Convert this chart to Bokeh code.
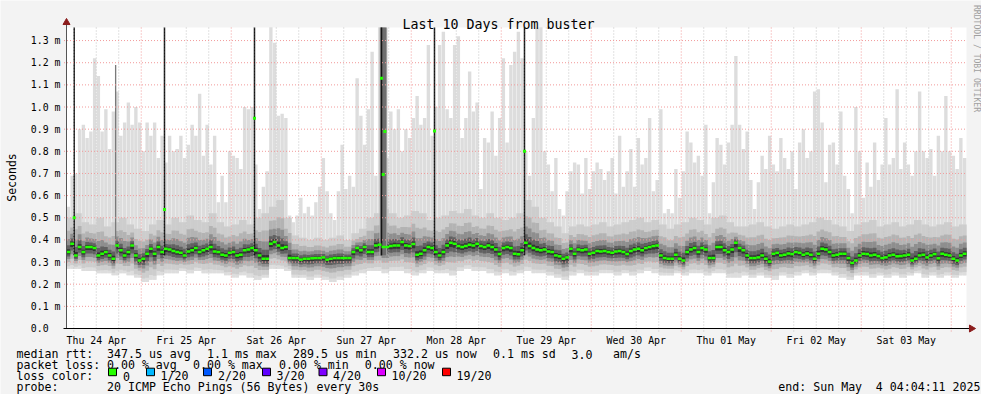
import numpy as np
from bokeh.plotting import figure
from bokeh.models import Range1d, ColumnDataSource
from bokeh.core.properties import value
from bokeh.embed import file_html
from bokeh.resources import INLINE

# ---------------- data ----------------
# time axis: hours since graph start (Thu 24 Apr 2025 04:04:11), 10 days
start_hour_of_day = 4 + 4 / 60 + 11 / 3600
span_hours = 240

day_labels = ["Thu 24 Apr", "Fri 25 Apr", "Sat 26 Apr", "Sun 27 Apr", "Mon 28 Apr",
              "Tue 29 Apr", "Wed 30 Apr", "Thu 01 May", "Fri 02 May", "Sat 03 May"]

y_ticks = [0.0, 0.1, 0.2, 0.3, 0.4, 0.5, 0.6, 0.7, 0.8, 0.9, 1.0, 1.1, 1.2, 1.3]
y_tick_labels = ["0.0\u00a0\u00a0", "0.1 m", "0.2 m", "0.3 m", "0.4 m", "0.5 m", "0.6 m",
                 "0.7 m", "0.8 m", "0.9 m", "1.0 m", "1.1 m", "1.2 m", "1.3 m"]

# median rtt per hour (ms)
median_ms = [
    0.345, 0.383, 0.330, 0.368, 0.345, 0.368, 0.368, 0.363, 0.330, 0.338,
    0.345, 0.330, 0.315, 0.375, 0.353, 0.330, 0.345, 0.375, 0.330, 0.307,
    0.315, 0.338, 0.360, 0.338, 0.368, 0.345, 0.360, 0.357, 0.350, 0.345,
    0.342, 0.330, 0.348, 0.353, 0.363, 0.345, 0.353, 0.360, 0.368, 0.348,
    0.345, 0.333, 0.330, 0.342, 0.345, 0.330, 0.333, 0.353, 0.357, 0.363,
    0.353, 0.330, 0.315, 0.315, 0.383, 0.390, 0.375, 0.363, 0.368, 0.318,
    0.318, 0.318, 0.311, 0.315, 0.315, 0.317, 0.318, 0.318, 0.321, 0.311,
    0.315, 0.318, 0.318, 0.318, 0.318, 0.318, 0.345, 0.363, 0.353, 0.368,
    0.345, 0.345, 0.375, 0.378, 0.368, 0.368, 0.372, 0.375, 0.375, 0.390,
    0.375, 0.372, 0.381, 0.333, 0.338, 0.353, 0.368, 0.363, 0.345, 0.330,
    0.345, 0.375, 0.387, 0.383, 0.372, 0.368, 0.372, 0.378, 0.375, 0.383,
    0.372, 0.368, 0.375, 0.368, 0.357, 0.336, 0.363, 0.368, 0.363, 0.338,
    0.335, 0.353, 0.387, 0.372, 0.363, 0.357, 0.353, 0.357, 0.348, 0.345,
    0.330, 0.326, 0.315, 0.321, 0.360, 0.338, 0.357, 0.353, 0.357, 0.338,
    0.342, 0.350, 0.348, 0.350, 0.345, 0.342, 0.348, 0.350, 0.345, 0.336,
    0.350, 0.357, 0.360, 0.353, 0.363, 0.368, 0.372, 0.375, 0.330, 0.318,
    0.315, 0.315, 0.333, 0.315, 0.307, 0.345, 0.357, 0.363, 0.345, 0.363,
    0.357, 0.318, 0.318, 0.368, 0.368, 0.353, 0.345, 0.357, 0.387, 0.363,
    0.353, 0.330, 0.318, 0.318, 0.321, 0.330, 0.315, 0.302, 0.338, 0.342,
    0.330, 0.333, 0.339, 0.336, 0.345, 0.342, 0.333, 0.339, 0.333, 0.315,
    0.338, 0.360, 0.357, 0.345, 0.330, 0.333, 0.338, 0.338, 0.318, 0.296,
    0.307, 0.330, 0.338, 0.336, 0.330, 0.333, 0.327, 0.318, 0.321, 0.330,
    0.333, 0.326, 0.327, 0.330, 0.333, 0.307, 0.315, 0.330, 0.333, 0.321,
    0.330, 0.336, 0.317, 0.338, 0.333, 0.330, 0.315, 0.307, 0.330, 0.338,
]

# max ping per hour (ms)
max_ms = [
    0.55, 0.69, 0.70, 0.90, 0.92, 0.86, 0.89, 1.22, 1.14, 0.89,
    0.99, 0.81, 0.98, 1.07, 0.87, 0.93, 1.02, 0.92, 1.00, 0.93,
    0.80, 0.93, 0.87, 0.93, 0.77, 0.87, 0.75, 0.87, 0.80, 0.81,
    0.87, 0.77, 0.83, 0.92, 0.87, 1.06, 0.78, 0.92, 0.74, 0.87,
    0.57, 0.69, 0.57, 0.80, 0.78, 0.77, 0.72, 1.00, 0.99, 1.00,
    0.74, 0.54, 0.64, 0.71, 1.36, 1.29, 0.96, 0.97, 0.95, 0.51,
    0.48, 0.51, 0.59, 0.52, 0.55, 0.51, 0.57, 0.64, 0.77, 0.62,
    0.52, 0.49, 0.62, 0.83, 0.63, 0.69, 0.64, 1.13, 0.96, 0.83,
    0.99, 1.25, 0.69, 1.36, 1.36, 0.77, 0.98, 0.90, 0.99, 0.80,
    0.90, 0.86, 0.95, 1.05, 0.92, 0.95, 1.28, 0.87, 1.00, 1.28,
    1.34, 0.99, 0.95, 1.28, 1.32, 0.86, 0.95, 1.16, 0.98, 1.02,
    0.63, 0.86, 0.84, 0.98, 0.78, 0.95, 1.22, 0.84, 1.19, 1.25,
    1.34, 1.22, 0.80, 0.69, 0.95, 1.36, 1.36, 0.80, 0.74, 0.62,
    0.77, 0.54, 0.51, 0.62, 0.71, 0.75, 0.74, 0.61, 0.77, 0.63,
    0.71, 0.75, 0.72, 0.67, 0.71, 0.77, 0.61, 0.87, 0.64, 0.71,
    0.81, 0.64, 0.86, 0.74, 0.77, 0.95, 0.62, 0.67, 0.99, 0.52,
    0.54, 0.52, 0.72, 0.59, 0.71, 0.89, 0.84, 0.75, 0.78, 0.69,
    0.92, 0.52, 0.66, 0.86, 0.83, 0.74, 0.84, 0.92, 1.23, 0.92,
    0.81, 0.89, 0.67, 0.54, 0.66, 0.78, 0.72, 0.87, 0.74, 0.71,
    0.86, 0.77, 0.72, 0.80, 0.63, 0.84, 0.90, 0.77, 0.80, 1.07,
    1.08, 0.93, 0.66, 0.83, 0.84, 0.74, 0.98, 0.69, 0.63, 0.52,
    1.00, 0.80, 0.59, 0.75, 0.64, 0.84, 0.67, 0.74, 0.95, 0.74,
    0.77, 1.08, 0.72, 0.84, 0.74, 0.69, 0.80, 1.07, 0.80, 0.77,
    0.81, 0.69, 0.87, 0.80, 1.05, 0.80, 0.78, 0.72, 0.86, 0.77,
]

# upper edge of the denser smoke, per 2 hours (ms)
upper_ms = [
    0.50, 0.52, 0.48, 0.47, 0.50, 0.46, 0.48, 0.50, 0.47, 0.45,
    0.44, 0.47, 0.49, 0.47, 0.50, 0.48, 0.51, 0.49, 0.48, 0.52,
    0.48, 0.46, 0.47, 0.49, 0.47, 0.50, 0.52, 0.55, 0.58, 0.50,
    0.42, 0.41, 0.40, 0.41, 0.40, 0.41, 0.42, 0.40, 0.43, 0.45,
    0.50, 0.52, 0.54, 0.52, 0.50, 0.51, 0.53, 0.52, 0.49, 0.50,
    0.51, 0.53, 0.52, 0.54, 0.51, 0.50, 0.52, 0.50, 0.49, 0.50,
    0.52, 0.58, 0.55, 0.50, 0.48, 0.46, 0.43, 0.46, 0.47, 0.46,
    0.47, 0.48, 0.46, 0.47, 0.48, 0.49, 0.50, 0.48, 0.49, 0.47,
    0.45, 0.47, 0.48, 0.50, 0.49, 0.47, 0.50, 0.51, 0.48, 0.46,
    0.46, 0.47, 0.48, 0.46, 0.45, 0.46, 0.47, 0.46, 0.47, 0.48,
    0.50, 0.49, 0.47, 0.46, 0.44, 0.47, 0.48, 0.49, 0.46, 0.47,
    0.48, 0.46, 0.47, 0.49, 0.47, 0.46, 0.47, 0.48, 0.46, 0.47,
]

# min ping per 2 hours (ms)
min_ms = [
    0.27, 0.27, 0.26, 0.26, 0.25, 0.25, 0.24, 0.25, 0.24, 0.23,
    0.21, 0.22, 0.24, 0.25, 0.25, 0.26, 0.25, 0.26, 0.25, 0.25,
    0.25, 0.24, 0.23, 0.24, 0.23, 0.22, 0.23, 0.27, 0.27, 0.26,
    0.23, 0.23, 0.22, 0.23, 0.22, 0.21, 0.22, 0.23, 0.24, 0.25,
    0.26, 0.26, 0.25, 0.26, 0.26, 0.25, 0.24, 0.25, 0.26, 0.25,
    0.25, 0.24, 0.26, 0.27, 0.26, 0.26, 0.25, 0.24, 0.25, 0.24,
    0.25, 0.26, 0.25, 0.25, 0.24, 0.23, 0.22, 0.24, 0.25, 0.24,
    0.24, 0.25, 0.25, 0.24, 0.25, 0.24, 0.25, 0.26, 0.25, 0.24,
    0.24, 0.25, 0.24, 0.25, 0.25, 0.24, 0.25, 0.25, 0.23, 0.23,
    0.24, 0.23, 0.24, 0.23, 0.22, 0.24, 0.23, 0.24, 0.25, 0.24,
    0.25, 0.25, 0.24, 0.23, 0.22, 0.24, 0.24, 0.23, 0.24, 0.23,
    0.24, 0.23, 0.24, 0.25, 0.23, 0.24, 0.23, 0.24, 0.23, 0.24,
]

# samples whose whole smoke reaches the top (hours since start)
black_spike_hour = [2.05, 26.13, 50.13, 84.0, 98.13, 122.13]
# high median samples (hours since start, median ms)
spike_hour = [2.05, 26.13, 50.13, 84.0, 84.45, 84.9, 98.13, 122.13]
spike_median_ms = [0.50, 0.537, 0.949, 1.13, 0.695, 0.889, 0.892, 0.80]
gray_spike_hour = [13.1]
gray_spike_top_ms = [1.19]
burst_hours = [83.7, 85.3]

loss_labels = ["0", "1/20", "2/20", "3/20", "4/20", "10/20", "19/20"]
loss_colors = ["#26ff00", "#00b8ff", "#0059ff", "#5e00ff", "#7e00ff", "#dd00ff", "#ff0000"]

legend_rows = [
    [("median rtt:", 16), ("347.5 us avg", 106.5), ("1.1 ms max", 206.5),
     ("289.5 us min", 292.5), ("332.2 us now", 392.5), ("0.1 ms sd", 492.5),
     ("3.0", 571), ("am/s", 612.5)],
    [("packet loss:", 16), ("0.00 % avg", 106.5), ("0.00 % max", 192.5),
     ("0.00 % min", 278.5), ("0.00 % now", 364.3)],
    [("loss color:", 16)],
    [("probe:", 16), ("20 ICMP Echo Pings (56 Bytes) every 30s", 106.5)],
]
end_texts = ["end: Sun May", "4 04:04:11 2025"]

# ---------------- layout constants (pixels) ----------------
W, H = 981, 394
PX_L, PX_R, PX_T, PX_B = 66, 966, 27, 328
Y_TOP = 1.359
PPH = (PX_R - PX_L) / span_hours          # pixels per hour
PPM = (PX_B - PX_T) / Y_TOP               # pixels per ms
FONT = "DejaVu Sans Mono"

p = figure(width=W, height=H, x_range=Range1d(0, W), y_range=Range1d(H, 0),
           output_backend="svg", toolbar_location=None, min_border=0,
           x_axis_type=None, y_axis_type=None,
           background_fill_color="#f3f3f3", border_fill_color="#f3f3f3",
           outline_line_color=None)
p.extra_x_ranges = {"h": Range1d(-PX_L / PPH, (W - PX_L) / PPH)}
p.extra_y_ranges = {"ms": Range1d(-(H - PX_B) / PPM, Y_TOP + PX_T / PPM)}
D = dict(x_range_name="h", y_range_name="ms")

# canvas
p.quad(left=[0], right=[span_hours], bottom=[0], top=[Y_TOP], fill_color="white",
       line_color=None, **D)

# ---------------- smoke ----------------
hrs = np.arange(span_hours) + 0.5
med = np.array(median_ms)
lo = np.repeat(np.array(min_ms), 2)
up = np.maximum(np.repeat(np.array(upper_ms), 2), med + 0.04)
hi = np.maximum(np.array(max_ms), up)

p.vbar(x=hrs, width=0.9, bottom=lo, top=hi, fill_color="#dddddd", line_color=None, **D)
p.vbar(x=hrs, width=1.02, bottom=lo, top=up, fill_color="#dddddd", line_color=None, **D)
layers = [(0.85, 1.0, "#cdcdcd"), (0.6, 0.62, "#b3b3b3"), (0.42, 0.38, "#8e8e8e"),
          (0.27, 0.2, "#616161"), (0.13, 0.08, "#333333")]
for fl, fu, c in layers:
    p.vbar(x=hrs, width=1.02, bottom=med - fl * (med - lo), top=med + fu * (up - med),
           fill_color=c, line_color=None, **D)

bmid = (burst_hours[0] + burst_hours[1]) / 2
bw = burst_hours[1] - burst_hours[0]
p.vbar(x=[bmid], width=bw + 0.5, bottom=0.33, top=Y_TOP, fill_color="#b4b4b4",
       line_color=None, **D)
p.vbar(x=[bmid], width=bw, bottom=0.33, top=Y_TOP, fill_color="#6e6e6e", line_color=None, **D)
p.vbar(x=gray_spike_hour, width=0.35, bottom=0.33, top=gray_spike_top_ms,
       fill_color="#7a7a7a", line_color=None, **D)
p.vbar(x=black_spike_hour, width=0.4, bottom=0.33, top=Y_TOP, fill_color="#151515",
       line_color=None, **D)

# ---------------- grid ----------------
minor6 = [6 * m - start_hour_of_day for m in range(1, 41) if m % 4 != 0]
midnights = [24 * d - start_hour_of_day for d in range(1, 11)]
noons = [24 * d + 12 - start_hour_of_day for d in range(10)]
ext_y = 3 / PPM
ext_x = 2.5 / PPH
p.segment(x0=minor6, x1=minor6, y0=[-ext_y] * len(minor6), y1=[Y_TOP] * len(minor6),
          line_color="#c4c4c4", line_dash="1 2", line_width=1, **D)
p.segment(x0=midnights, x1=midnights, y0=[-ext_y] * len(midnights),
          y1=[Y_TOP] * len(midnights), line_color="#f29a9a", line_dash="1 2", line_width=1, **D)
hy = y_ticks[1:]
p.segment(x0=[-ext_x] * len(hy), x1=[span_hours] * len(hy), y0=hy, y1=hy,
          line_color="#f29a9a", line_dash="1 2", line_width=1, **D)

# ---------------- median ----------------
p.segment(x0=hrs - 0.5, x1=hrs + 0.5, y0=med, y1=med, line_color="#22ff00", line_width=2.5, **D)
p.scatter(x=spike_hour, y=spike_median_ms, marker="square", size=3, fill_color="#22ff00",
          line_color=None, **D)

# ---------------- axes ----------------
head_c = "#8b1c1c"
p.segment(x0=[0], x1=[0], y0=[0], y1=[Y_TOP + 4 / PPM], line_color="#555555", line_width=1, **D)
p.segment(x0=[-3 / PPH], x1=[span_hours + 4 / PPH], y0=[0], y1=[0], line_color="#000000",
          line_width=1, **D)
p.scatter(x=[0], y=[Y_TOP + 5 / PPM], marker="triangle", size=7, fill_color=head_c,
          line_color=head_c, **D)
p.scatter(x=[span_hours + 5 / PPH], y=[0], marker="triangle", size=7, angle=-np.pi / 2,
          fill_color=head_c, line_color=head_c, **D)

# y tick labels (x in pixels, y in ms)
p.text(x=[PX_L - 6] * len(y_ticks), y=y_ticks, text=y_tick_labels, y_range_name="ms",
       text_font=value(FONT), text_font_size=value("9.9px"), text_align="right",
       text_baseline="middle", text_color="#000000")
# x tick labels (x in hours, y in pixels)
p.text(x=noons, y=[340.0] * len(noons), text=day_labels, x_range_name="h",
       text_font=value(FONT), text_font_size=value("9.9px"), text_align="center",
       text_baseline="alphabetic", text_color="#000000")

# ---------------- titles ----------------
p.text(x=[498], y=[23.5], text=["Last 10 Days from buster"], text_font=value(FONT),
       text_font_size=value("13.3px"), text_align="center", text_baseline="alphabetic",
       text_color="#000000")
p.text(x=[11], y=[177], text=["Seconds"], angle=np.pi / 2, text_font=value(FONT),
       text_font_size=value("11.5px"), text_align="center", text_baseline="middle",
       text_color="#000000")
p.text(x=[976.5], y=[58], text=["RRDTOOL / TOBI OETIKER"], angle=-np.pi / 2,
       text_font=value(FONT), text_font_size=value("8.1px"), text_align="center",
       text_baseline="middle", text_color="#a0a0a0")

# ---------------- legend ----------------
row_y = [353.5, 364.6, 375.7, 386.5]
lx, ly, lt = [], [], []
for ri, row in enumerate(legend_rows):
    for t, x in row:
        lx.append(x)
        ly.append(row_y[ri])
        lt.append(t)
box_left = [108, 146, 203, 262, 318.5, 377, 442]
text_left = [122.5, 160, 217.5, 276, 332.5, 391, 456]
for t, x in zip(loss_labels, text_left):
    lx.append(x)
    ly.append(row_y[2])
    lt.append(t)
p.text(x="x", y="y", text="text", source=ColumnDataSource(dict(x=lx, y=ly, text=lt)),
       text_font=value(FONT), text_font_size=value("11.6px"), text_align="left",
       text_baseline="alphabetic", text_color="#000000")
p.text(x=[861.6, 980], y=[row_y[3], row_y[3]], text=end_texts, text_font=value(FONT),
       text_font_size=value("11.6px"), text_align="right", text_baseline="alphabetic",
       text_color="#000000")
p.quad(left=box_left, right=[b + 8 for b in box_left],
       top=[row_y[2] - 8.0] * len(box_left), bottom=[row_y[2] - 0.5] * len(box_left),
       fill_color=loss_colors, line_color="#000000", line_width=1)

open("out.html", "w").write(file_html(p, INLINE))
